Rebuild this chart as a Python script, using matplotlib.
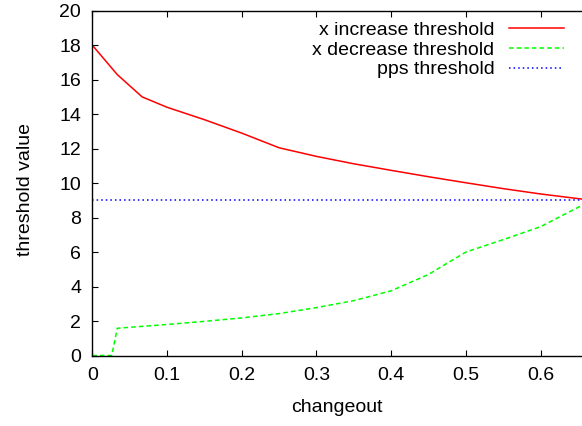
import matplotlib
matplotlib.use('Agg')
import matplotlib.pyplot as plt

# data
inc_x = [0, 0.0333, 0.0667, 0.1, 0.15, 0.2, 0.25, 0.3, 0.35, 0.4, 0.45, 0.5, 0.55, 0.6, 0.656]
inc_y = [18, 16.3, 15.0, 14.4, 13.68, 12.9, 12.05, 11.55, 11.12, 10.74, 10.37, 10.02, 9.68, 9.37, 9.07]

dec_x = [0, 0.026, 0.0335, 0.1, 0.15, 0.2, 0.25, 0.3, 0.35, 0.4, 0.45, 0.5, 0.55, 0.6, 0.656]
dec_y = [0, 0, 1.58, 1.8, 1.98, 2.18, 2.43, 2.78, 3.18, 3.75, 4.7, 6.0, 6.72, 7.47, 8.72]

pps_x = [0, 0.656]
pps_y = [9, 9]

xticks = [0, 0.1, 0.2, 0.3, 0.4, 0.5, 0.6]
yticks = [0, 2, 4, 6, 8, 10, 12, 14, 16, 18, 20]

plt.rcParams['font.family'] = ['Liberation Sans', 'DejaVu Sans']
fs = 14

fig = plt.figure(figsize=(5.82, 4.26), dpi=100)
ax = fig.add_axes([92.3 / 582, 70.5 / 426, 489.7 / 582, 344.8 / 426])

ax.plot(inc_x, inc_y, color='#ff0000', lw=1.1, label='x increase threshold')
ax.plot(dec_x, dec_y, color='#00ff00', lw=1.1, dashes=(3, 2), label='x decrease threshold')
ax.plot(pps_x, pps_y, color='#0000ff', lw=1.1, dashes=(1, 2), label='pps threshold')

ax.set_xlim(0, 489.7 / 747)
ax.set_ylim(0, 20)
ax.set_xticks(xticks)
ax.set_xticklabels([f'{t:g}' for t in xticks])
ax.set_yticks(yticks)
ax.tick_params(direction='in', length=4, width=0.8, labelsize=fs, top=True, pad=8)
ax.spines['right'].set_visible(False)
for s in ax.spines.values():
    s.set_linewidth(1.0)

ax.set_xlabel('changeout', fontsize=fs, labelpad=11)
ax.set_ylabel('threshold value', fontsize=fs)
ax.yaxis.set_label_coords(-0.119, 0.48)

ax.legend(loc='upper right', bbox_to_anchor=(564 / 582, 1 - 21 / 426),
          bbox_transform=fig.transFigure, frameon=False, markerfirst=False,
          fontsize=fs, handlelength=2.85, handletextpad=0.72, labelspacing=0.12,
          borderaxespad=0, borderpad=0)

fig.savefig('out.png', dpi=100)
